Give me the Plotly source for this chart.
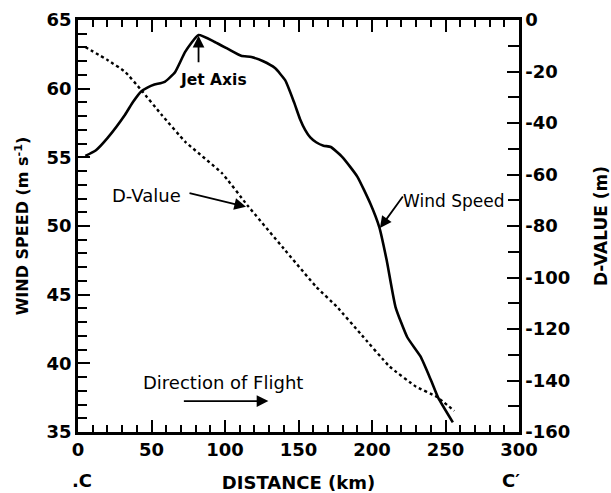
import plotly.graph_objects as go

# Wind speed (m/s) vs distance (km)
ws_x = [5, 12, 20, 32, 37.5, 43, 47.5, 52, 59, 66, 73, 82, 93, 102, 111, 118, 126, 134, 141, 147, 151, 154.5, 158, 162, 167, 172, 180, 190, 199, 205, 210, 216, 224, 233, 240, 245, 255]
ws_y = [55.1, 55.5, 56.4, 58.1, 59.05, 59.8, 60.1, 60.3, 60.5, 61.2, 62.7, 63.9, 63.4, 62.9, 62.4, 62.3, 62.0, 61.5, 60.6, 59.0, 57.8, 57.0, 56.45, 56.1, 55.85, 55.75, 55.0, 53.6, 51.6, 49.9, 47.5, 44.1, 41.9, 40.5, 38.8, 37.5, 35.7]

# D-value (m) vs distance (km)
d_x = [5, 20, 32, 43, 57, 73, 98, 115, 140, 162, 176, 192, 212, 230, 244, 256]
d_y = [-10.5, -15.5, -20.1, -27.2, -36.9, -47.3, -59.5, -71.8, -88.8, -103.6, -111.3, -121.7, -134.6, -142.4, -146.3, -151.8]

x_ticks = [0, 50, 100, 150, 200, 250, 300]
left_ticks = [35, 40, 45, 50, 55, 60, 65]
right_ticks = [0, -20, -40, -60, -80, -100, -120, -140, -160]

FONT = "DejaVu Sans"
BLACK = "black"

fig = go.Figure()
fig.add_trace(go.Scatter(x=ws_x, y=ws_y, mode="lines",
                         line=dict(color=BLACK, width=2.6, shape="spline", smoothing=0.45),
                         yaxis="y", showlegend=False, hoverinfo="skip"))
fig.add_trace(go.Scatter(x=d_x, y=d_y, mode="lines",
                         line=dict(color=BLACK, width=2.4, dash="dot", shape="spline", smoothing=0.35),
                         yaxis="y2", showlegend=False, hoverinfo="skip"))
# invisible trace to anchor the top (mirror) axis
fig.add_trace(go.Scatter(x=[x_ticks[0], x_ticks[-1]], y=[left_ticks[0], left_ticks[0]], mode="lines",
                         line=dict(width=0), xaxis="x2", yaxis="y", showlegend=False, hoverinfo="skip"))

tickfont = dict(family=FONT, size=18, color=BLACK, weight="bold")

x_step = x_ticks[1] - x_ticks[0]
common_x = dict(range=[x_ticks[0], x_ticks[-1]], tickmode="linear", tick0=x_ticks[0], dtick=x_step,
                ticks="inside", ticklen=12, tickwidth=2, automargin=False,
                tickcolor=BLACK, showline=True, linecolor=BLACK, linewidth=2.5,
                showgrid=False, zeroline=False,
                minor=dict(tick0=x_ticks[0], dtick=x_step / 5, ticks="inside", ticklen=7, tickwidth=2,
                           tickcolor=BLACK, showgrid=False))

y_step = left_ticks[1] - left_ticks[0]
y2_step = right_ticks[0] - right_ticks[1]

fig.update_layout(
    width=611, height=493,
    margin=dict(l=78, r=92, t=20, b=61),
    paper_bgcolor="white", plot_bgcolor="white",
    font=dict(family=FONT, color=BLACK),
    xaxis=dict(**common_x, tickfont=tickfont,
               title=dict(text="DISTANCE (km)", font=dict(family=FONT, size=18, color=BLACK, weight="bold"),
                          standoff=18)),
    xaxis2=dict(**common_x, overlaying="x", side="top", showticklabels=False),
    yaxis=dict(range=[left_ticks[0], left_ticks[-1]], tickmode="linear", tick0=left_ticks[0], dtick=y_step,
               ticks="inside", ticklen=12, tickwidth=2, automargin=False,
               tickcolor=BLACK, showline=True, linecolor=BLACK, linewidth=2.5, mirror=False,
               showgrid=False, zeroline=False, tickfont=tickfont,
               minor=dict(tick0=left_ticks[0], dtick=y_step / 5, ticks="inside", ticklen=9, tickwidth=2,
                          tickcolor=BLACK, showgrid=False),
               title=dict(text="WIND SPEED (m s<sup>-1</sup>)",
                          font=dict(family=FONT, size=16, color=BLACK, weight="bold"), standoff=14)),
    yaxis2=dict(range=[right_ticks[-1], right_ticks[0]], overlaying="y", side="right",
                tickmode="array", tickvals=right_ticks, ticktext=[str(v) for v in right_ticks],
                ticks="inside", ticklen=12, tickwidth=2, tickcolor=BLACK, showline=True, automargin=False,
                linecolor=BLACK, linewidth=2.5, showgrid=False, zeroline=False, tickfont=tickfont,
                minor=dict(tickmode="linear", tick0=right_ticks[0], dtick=y2_step / 2, ticks="inside",
                           ticklen=11, tickwidth=2, tickcolor=BLACK, showgrid=False),
                title=dict(text="D-VALUE (m)", font=dict(family=FONT, size=17, color=BLACK, weight="bold"),
                           standoff=26)),
)

arrow = dict(showarrow=True, arrowhead=2, arrowsize=1.3, arrowwidth=1.8, arrowcolor=BLACK, text="")

# Jet Axis
fig.add_annotation(x=82, y=63.85, xref="x", yref="y", ax=0, ay=28, **arrow)
fig.add_annotation(x=92.5, y=60.6, xref="x", yref="y", text="<b>Jet Axis</b>", showarrow=False,
                   font=dict(family=FONT, size=15.5, color=BLACK))
# D-Value
fig.add_annotation(x=114.3, y=51.4, xref="x", yref="y", ax=-58, ay=-14, **arrow)
fig.add_annotation(x=46.3, y=52.25, xref="x", yref="y", text="D-Value", showarrow=False,
                   font=dict(family=FONT, size=18, color=BLACK))
# Wind Speed
fig.add_annotation(x=205.4, y=49.85, xref="x", yref="y", ax=24, ay=-33, **arrow)
fig.add_annotation(x=255.1, y=51.8, xref="x", yref="y", text="Wind Speed", showarrow=False,
                   font=dict(family=FONT, size=17, color=BLACK))
# Direction of Flight
fig.add_annotation(x=129.5, y=37.25, xref="x", yref="y", ax=-86, ay=0, **arrow)
fig.add_annotation(x=98.3, y=38.6, xref="x", yref="y", text="Direction of Flight", showarrow=False,
                   font=dict(family=FONT, size=18, color=BLACK))
# Section end labels
fig.add_annotation(x=0, y=-0.118, xref="x", yref="paper", text="<b>.C</b>", showarrow=False,
                   font=dict(family=FONT, size=18, color=BLACK), xanchor="center", yanchor="middle", xshift=4)
fig.add_annotation(x=300, y=-0.118, xref="x", yref="paper", text="<b>C′</b>", showarrow=False,
                   font=dict(family=FONT, size=18, color=BLACK), xanchor="center", yanchor="middle", xshift=-8)

fig.write_html("out.html", config={"displayModeBar": False},
               post_script="document.body.style.margin='0';document.body.style.overflow='hidden';")
